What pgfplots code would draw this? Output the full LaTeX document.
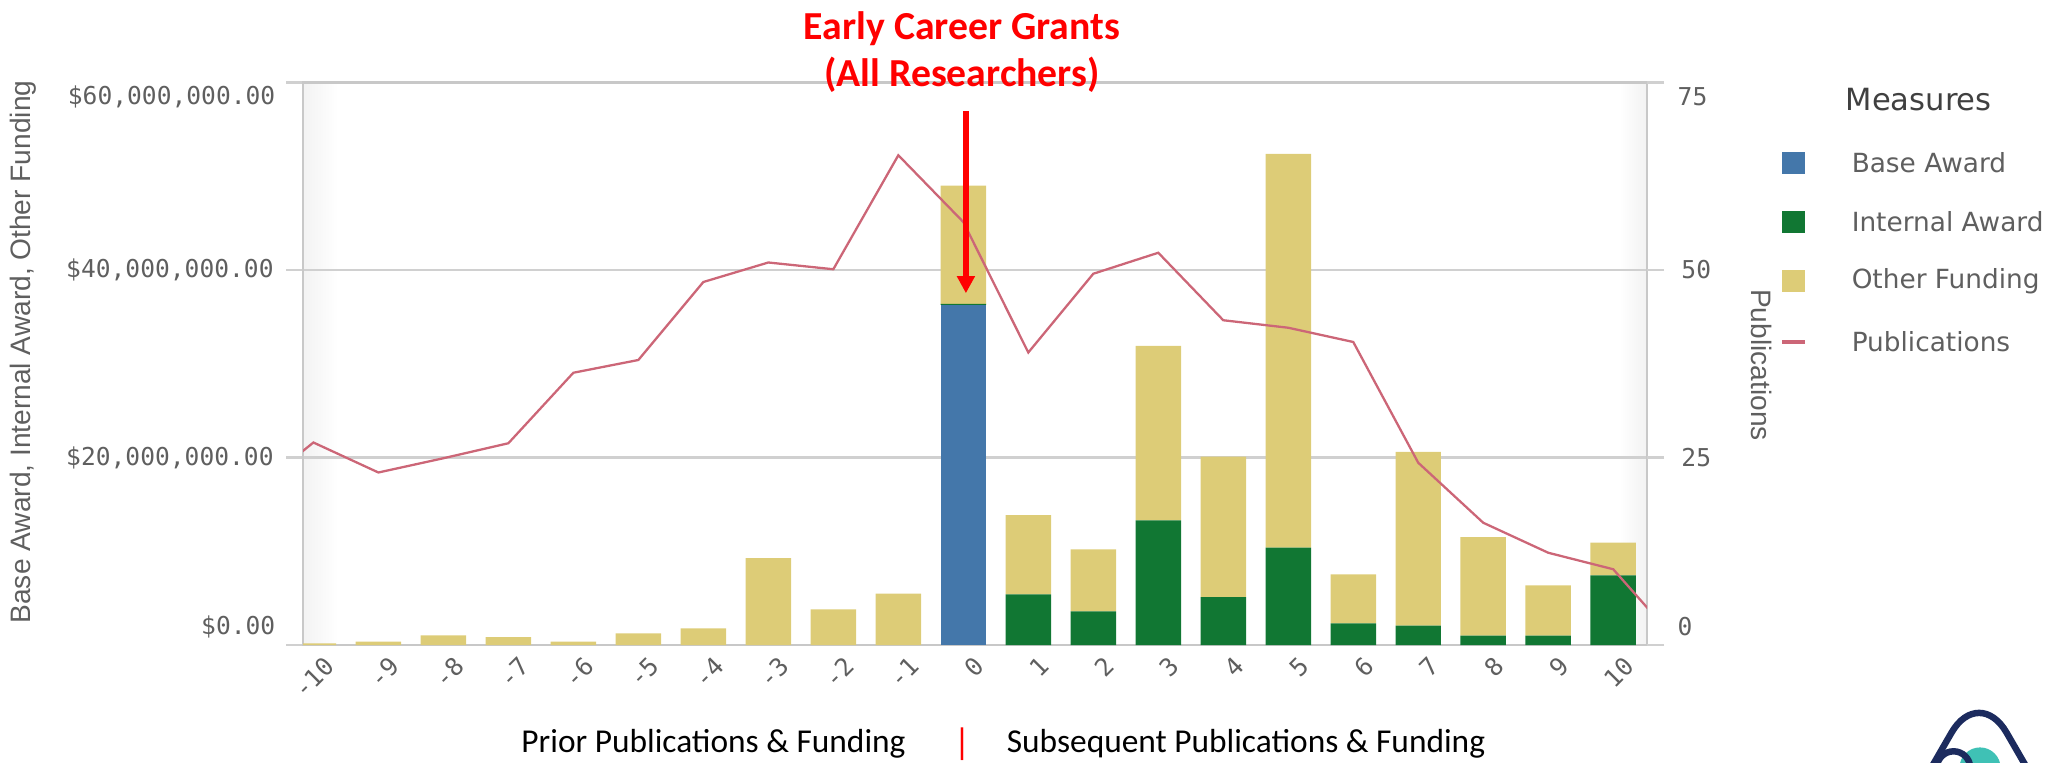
\documentclass[border=0pt]{standalone}
\usepackage{fontspec}
\setmainfont{DejaVu Sans}
\newfontfamily\monofont{DejaVu Sans Mono}
\newfontfamily\arialfont{Liberation Sans}
\newfontfamily\carlito{Carlito}
\usepackage{pgfplots}
\pgfplotsset{compat=1.18}
\usepackage{pgfplotstable}
\usetikzlibrary{arrows.meta}

\definecolor{baseblue}{HTML}{4477AA}
\definecolor{intgreen}{HTML}{117733}
\definecolor{othyellow}{HTML}{DDCC77}
\definecolor{pubred}{HTML}{CC6677}
\definecolor{gridgray}{HTML}{D0D0D0}
\definecolor{framegray}{HTML}{C8C8C8}
\definecolor{labgray}{HTML}{5F5F5F}
\definecolor{titlegray}{HTML}{404040}
\definecolor{logonavy}{HTML}{1C2B5E}
\definecolor{logoteal}{HTML}{3FC1B5}

% funding in millions of dollars
\pgfplotstableread{
x   base   internal other
-10 0      0     0.18
-9  0      0     0.35
-8  0      0     1.03
-7  0      0     0.85
-6  0      0     0.35
-5  0      0     1.24
-4  0      0     1.77
-3  0      0     9.27
-2  0      0     3.79
-1  0      0     5.49
0   36.27  0.12  12.60
1   0      5.40  8.45
2   0      3.60  6.60
3   0      13.30 18.60
4   0      5.10  15.00
5   0      10.40 42.00
6   0      2.31  5.22
7   0      2.06  18.54
8   0      0.99  10.51
9   0      0.99  5.37
10  0      7.42  3.50
}\fundtable

\pgfplotstableread{
x   pub
-11 20.0
-10 27.0
-9  23.0
-8  24.9
-7  26.9
-6  36.3
-5  38.0
-4  48.4
-3  51.0
-2  50.1
-1  65.3
0   56.4
1   39.0
2   49.5
3   52.3
4   43.3
5   42.3
6   40.4
7   24.3
8   16.3
9   12.3
10  10.1
11  0.3
}\pubtable

\begin{document}
\begin{tikzpicture}
\useasboundingbox (0,0) rectangle (204.7mm,-76.3mm);

% faint edge shading of the plot area
\shade[left color=black!5, right color=white] (30.3mm,-64.5mm) rectangle (33.8mm,-8.25mm);
\shade[left color=white, right color=black!5] (161.9mm,-64.5mm) rectangle (164.7mm,-8.25mm);

\begin{axis}[
  at={(30.3mm,-64.5mm)}, anchor=south west,
  width=134.4mm, height=56.25mm, scale only axis,
  xmin=-10.16, xmax=10.52, ymin=0, ymax=60,
  ybar stacked, bar width=0.7,
  axis line style={draw=framegray, line width=0.8pt},
  xtick={-10,-9,...,10},
  xticklabels={-10,-9,-8,-7,-6,-5,-4,-3,-2,-1,0,1,2,3,4,5,6,7,8,9,10},
  xtick align=inside, x tick style={draw=none},
  xticklabel style={rotate=45, anchor=east, inner sep=0pt, yshift=-2.3mm},
  ytick={0,20,40,60},
  yticklabels={{},{\$20,000,000.00},{\$40,000,000.00},{}},
  ytick pos=left, ytick align=outside,
  major tick length=1.7mm,
  y tick style={draw=gridgray, line width=0.8pt},
  ymajorgrids, grid style={draw=gridgray, line width=0.8pt},
  tick label style={font=\monofont\fontsize{7}{8}\selectfont, text=labgray},
]
\addplot[fill=baseblue, draw=none] table[x=x,y=base]{\fundtable};
\addplot[fill=intgreen, draw=none] table[x=x,y=internal]{\fundtable};
\addplot[fill=othyellow, draw=none] table[x=x,y=other]{\fundtable};
\end{axis}

\begin{axis}[
  at={(30.3mm,-64.5mm)}, anchor=south west,
  width=134.4mm, height=56.25mm, scale only axis,
  xmin=-10.16, xmax=10.52, ymin=0, ymax=75,
  axis x line=none, axis y line*=right,
  axis line style={draw=none},
  ytick={0,25,50,75}, yticklabels={{},25,50,{}},
  ytick align=outside, major tick length=1.7mm,
  y tick style={draw=gridgray, line width=0.8pt},
  tick label style={font=\monofont\fontsize{7}{8}\selectfont, text=labgray},
  yticklabel style={xshift=0.5mm},
]
\addplot[pubred, line width=0.65pt, no markers] table[x=x,y=pub]{\pubtable};
% red annotation arrow (57M down to 37.5M, expressed on the 0-75 scale)
\draw[red, line width=0.6mm, -{Triangle[width=1.7mm,length=1.7mm]}] (axis cs:0.04,71.2) -- (axis cs:0.04,46.9);
\end{axis}

\begin{scope}[x=0.1mm, y=-0.1mm]
% edge tick labels
\node[anchor=east, inner sep=0pt, font=\monofont\fontsize{7}{8}\selectfont, text=labgray] at (276,627) {\$0.00};
\node[anchor=east, inner sep=0pt, font=\monofont\fontsize{7}{8}\selectfont, text=labgray] at (276,97) {\$60,000,000.00};
\node[anchor=west, inner sep=0pt, font=\monofont\fontsize{7}{8}\selectfont, text=labgray] at (1677,627) {0};
\node[anchor=west, inner sep=0pt, font=\monofont\fontsize{7}{8}\selectfont, text=labgray] at (1677,97) {75};
% axis titles
\node[rotate=90, inner sep=0pt, font=\arialfont\fontsize{8}{9}\selectfont, text=labgray] at (23.5,352) {Base Award, Internal Award, Other Funding};
\node[rotate=-90, inner sep=0pt, font=\arialfont\fontsize{8}{9}\selectfont, text=labgray] at (1762,365) {Publications};
% legend
\node[anchor=west, inner sep=0pt, font=\fontsize{8.7}{10}\selectfont, text=titlegray] at (1845,100) {Measures};
\fill[baseblue] (1782,152) rectangle (1805,174);
\node[anchor=west, inner sep=0pt, font=\fontsize{7.5}{9}\selectfont, text=labgray] at (1851,163) {Base Award};
\fill[intgreen] (1782,211) rectangle (1805,233);
\node[anchor=west, inner sep=0pt, font=\fontsize{7.5}{9}\selectfont, text=labgray] at (1851,222) {Internal Award};
\fill[othyellow] (1782,270) rectangle (1805,292);
\node[anchor=west, inner sep=0pt, font=\fontsize{7.5}{9}\selectfont, text=labgray] at (1851,281) {Other Funding};
\draw[pubred, line width=0.4mm] (1782,342) -- (1805,342);
\node[anchor=west, inner sep=0pt, font=\fontsize{7.5}{9}\selectfont, text=labgray] at (1851,342) {Publications};
% annotation
\node[align=center, inner sep=0pt, text=red, font=\carlito\bfseries\fontsize{11.3}{13.4}\selectfont] at (962,52) {Early Career Grants\\(All Researchers)};
% bottom captions
\node[inner sep=0pt, font=\carlito\fontsize{9.5}{11}\selectfont] at (713.5,744) {Prior Publications \& Funding};
\node[inner sep=0pt, text=red, font=\carlito\fontsize{10.5}{11}\selectfont] at (962,744) {|};
\node[inner sep=0pt, font=\carlito\fontsize{9.5}{11}\selectfont] at (1246,744) {Subsequent Publications \& Funding};
% logo (partially cut off)
\fill[logoteal] (1980,768) circle[radius=2.06mm];
\draw[logonavy, line width=0.65mm] (1953.5,768) circle[radius=1.67mm];
\draw[logonavy, line width=0.65mm, rounded corners=5.5mm] (1927,775) -- (1979,685) -- (2031,775);
\end{scope}
\end{tikzpicture}
\end{document}
